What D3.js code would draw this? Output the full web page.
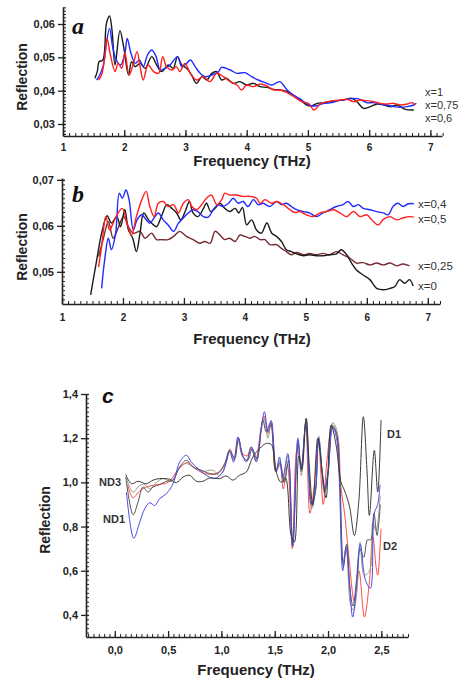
<!DOCTYPE html>
<html><head><meta charset="utf-8">
<script src="https://cdn.jsdelivr.net/npm/d3@7"></script>
<style>body{margin:0;background:#fff}svg{display:block}</style>
</head><body>
<svg id="chart" width="467" height="681"></svg>
<script>
// ---------- Panel a data: [frequency THz, reflection] ----------
const aBlack = [[1.52,0.0437],[1.56,0.0457],[1.59,0.0487],[1.65,0.0492],[1.71,0.0602],[1.76,0.0624],[1.80,0.0582],[1.85,0.0477],[1.93,0.0580],[1.99,0.0532],[2.07,0.0447],[2.12,0.0487],[2.18,0.0472],[2.26,0.0482],[2.34,0.0467],[2.45,0.0502],[2.53,0.0477],[2.61,0.0457],[2.72,0.0477],[2.80,0.0467],[2.87,0.0502],[2.94,0.0477],[3.02,0.0467],[3.10,0.0447],[3.18,0.0422],[3.27,0.0442],[3.35,0.0432],[3.43,0.0452],[3.51,0.0457],[3.59,0.0432],[3.67,0.0437],[3.78,0.0422],[3.89,0.0427],[4.00,0.0417],[4.11,0.0422],[4.22,0.0412],[4.33,0.0410],[4.44,0.0404],[4.55,0.0402],[4.66,0.0397],[4.76,0.0387],[4.87,0.0372],[4.98,0.0357],[5.06,0.0354],[5.15,0.0362],[5.26,0.0364],[5.36,0.0367],[5.47,0.0370],[5.58,0.0372],[5.72,0.0377],[5.80,0.0367],[5.91,0.0347],[6.02,0.0352],[6.13,0.0360],[6.24,0.0357],[6.35,0.0352],[6.45,0.0357],[6.59,0.0344],[6.73,0.0342]];
const aRed = [[1.58,0.0432],[1.63,0.0447],[1.69,0.0512],[1.72,0.0557],[1.78,0.0502],[1.85,0.0457],[1.90,0.0482],[1.96,0.0467],[2.01,0.0515],[2.08,0.0447],[2.15,0.0482],[2.21,0.0517],[2.26,0.0472],[2.31,0.0432],[2.39,0.0477],[2.48,0.0457],[2.56,0.0452],[2.63,0.0502],[2.69,0.0472],[2.78,0.0462],[2.85,0.0472],[2.91,0.0457],[2.99,0.0482],[3.08,0.0452],[3.18,0.0432],[3.29,0.0442],[3.40,0.0427],[3.51,0.0452],[3.62,0.0442],[3.73,0.0427],[3.84,0.0417],[3.92,0.0402],[4.00,0.0417],[4.11,0.0412],[4.22,0.0420],[4.33,0.0414],[4.44,0.0402],[4.55,0.0402],[4.66,0.0394],[4.79,0.0380],[4.90,0.0367],[5.01,0.0362],[5.10,0.0342],[5.20,0.0360],[5.31,0.0367],[5.42,0.0370],[5.53,0.0372],[5.64,0.0374],[5.75,0.0367],[5.85,0.0372],[5.96,0.0370],[6.07,0.0367],[6.18,0.0362],[6.29,0.0360],[6.40,0.0362],[6.51,0.0357],[6.62,0.0360],[6.70,0.0364],[6.75,0.0357]];
const aBlue = [[1.55,0.0432],[1.60,0.0447],[1.66,0.0477],[1.70,0.0532],[1.76,0.0587],[1.81,0.0532],[1.87,0.0492],[1.94,0.0477],[2.01,0.0512],[2.05,0.0557],[2.11,0.0512],[2.18,0.0482],[2.25,0.0492],[2.31,0.0472],[2.38,0.0507],[2.45,0.0522],[2.52,0.0502],[2.59,0.0462],[2.67,0.0467],[2.75,0.0477],[2.87,0.0502],[2.94,0.0472],[3.02,0.0482],[3.08,0.0492],[3.16,0.0472],[3.24,0.0452],[3.32,0.0442],[3.43,0.0447],[3.54,0.0457],[3.59,0.0470],[3.73,0.0462],[3.84,0.0452],[3.97,0.0454],[4.08,0.0442],[4.19,0.0432],[4.30,0.0424],[4.41,0.0417],[4.54,0.0427],[4.66,0.0402],[4.76,0.0387],[4.90,0.0372],[5.01,0.0357],[5.12,0.0354],[5.26,0.0362],[5.39,0.0364],[5.50,0.0370],[5.64,0.0374],[5.75,0.0377],[5.85,0.0374],[5.96,0.0364],[6.07,0.0364],[6.18,0.0360],[6.29,0.0357],[6.40,0.0352],[6.51,0.0350],[6.62,0.0352],[6.73,0.0357],[6.77,0.0362]];
const aLabels = ["x=1","x=0,75","x=0,6"];
const aXTicks = [1,2,3,4,5,6,7];
const aYTicks = [0.03,0.04,0.05,0.06];

// ---------- Panel b data ----------
const bBlack = [[1.47,0.0450],[1.57,0.0526],[1.65,0.0584],[1.74,0.0622],[1.81,0.0606],[1.90,0.0620],[1.96,0.0598],[2.03,0.0635],[2.09,0.0591],[2.16,0.0573],[2.22,0.0544],[2.28,0.0584],[2.34,0.0628],[2.42,0.0613],[2.50,0.0602],[2.55,0.0598],[2.63,0.0620],[2.72,0.0646],[2.80,0.0638],[2.88,0.0628],[2.95,0.0613],[3.02,0.0631],[3.09,0.0653],[3.15,0.0628],[3.23,0.0620],[3.31,0.0635],[3.37,0.0649],[3.44,0.0631],[3.51,0.0638],[3.59,0.0649],[3.67,0.0638],[3.75,0.0631],[3.84,0.0638],[3.90,0.0628],[3.96,0.0640],[4.03,0.0602],[4.11,0.0613],[4.19,0.0591],[4.27,0.0584],[4.36,0.0606],[4.44,0.0584],[4.52,0.0577],[4.60,0.0566],[4.68,0.0548],[4.76,0.0544],[4.85,0.0539],[4.96,0.0535],[5.06,0.0537],[5.17,0.0535],[5.28,0.0535],[5.39,0.0537],[5.50,0.0539],[5.58,0.0548],[5.67,0.0537],[5.75,0.0519],[5.83,0.0504],[5.94,0.0493],[6.05,0.0483],[6.16,0.0464],[6.27,0.0461],[6.38,0.0464],[6.46,0.0468],[6.54,0.0483],[6.62,0.0475],[6.70,0.0483],[6.76,0.0469]];
const bMaroon = [[1.60,0.0533],[1.68,0.0573],[1.76,0.0609],[1.84,0.0573],[1.92,0.0595],[2.01,0.0620],[2.09,0.0598],[2.17,0.0584],[2.28,0.0588],[2.36,0.0573],[2.47,0.0584],[2.55,0.0570],[2.63,0.0570],[2.74,0.0570],[2.83,0.0577],[2.93,0.0588],[3.04,0.0577],[3.15,0.0570],[3.26,0.0562],[3.34,0.0566],[3.43,0.0562],[3.51,0.0588],[3.59,0.0580],[3.67,0.0570],[3.75,0.0573],[3.84,0.0566],[3.92,0.0580],[4.00,0.0577],[4.08,0.0573],[4.16,0.0577],[4.25,0.0570],[4.33,0.0570],[4.41,0.0559],[4.52,0.0559],[4.60,0.0551],[4.68,0.0544],[4.76,0.0537],[4.85,0.0542],[4.96,0.0537],[5.06,0.0540],[5.17,0.0537],[5.28,0.0540],[5.39,0.0537],[5.50,0.0544],[5.61,0.0537],[5.72,0.0530],[5.83,0.0519],[5.94,0.0520],[6.05,0.0515],[6.16,0.0519],[6.27,0.0515],[6.38,0.0519],[6.49,0.0513],[6.59,0.0517],[6.70,0.0513]];
const bRed = [[1.60,0.0510],[1.65,0.0555],[1.72,0.0620],[1.78,0.0591],[1.84,0.0606],[1.92,0.0628],[1.99,0.0638],[2.06,0.0609],[2.14,0.0580],[2.22,0.0620],[2.31,0.0657],[2.38,0.0675],[2.44,0.0642],[2.51,0.0620],[2.58,0.0649],[2.66,0.0653],[2.74,0.0642],[2.83,0.0646],[2.91,0.0628],[2.99,0.0649],[3.07,0.0657],[3.13,0.0642],[3.21,0.0635],[3.29,0.0646],[3.37,0.0660],[3.45,0.0667],[3.54,0.0646],[3.62,0.0657],[3.67,0.0671],[3.75,0.0667],[3.86,0.0667],[3.97,0.0664],[4.08,0.0664],[4.19,0.0660],[4.25,0.0649],[4.33,0.0657],[4.44,0.0649],[4.52,0.0653],[4.63,0.0646],[4.74,0.0635],[4.82,0.0629],[4.90,0.0631],[5.01,0.0624],[5.12,0.0620],[5.23,0.0628],[5.34,0.0631],[5.45,0.0635],[5.56,0.0628],[5.67,0.0620],[5.78,0.0631],[5.89,0.0620],[6.00,0.0624],[6.08,0.0613],[6.19,0.0602],[6.27,0.0614],[6.38,0.0620],[6.49,0.0613],[6.59,0.0617],[6.70,0.0620],[6.77,0.0619]];
const bBlue = [[1.65,0.0464],[1.70,0.0526],[1.76,0.0573],[1.81,0.0548],[1.88,0.0584],[1.94,0.0671],[1.99,0.0660],[2.05,0.0678],[2.10,0.0657],[2.17,0.0591],[2.23,0.0613],[2.31,0.0624],[2.38,0.0613],[2.44,0.0606],[2.51,0.0617],[2.58,0.0628],[2.66,0.0613],[2.74,0.0602],[2.83,0.0588],[2.91,0.0606],[2.99,0.0617],[3.07,0.0628],[3.15,0.0635],[3.23,0.0631],[3.32,0.0620],[3.40,0.0619],[3.48,0.0635],[3.56,0.0646],[3.64,0.0642],[3.73,0.0649],[3.81,0.0660],[3.89,0.0649],[3.97,0.0653],[4.05,0.0642],[4.14,0.0657],[4.22,0.0646],[4.30,0.0649],[4.41,0.0642],[4.52,0.0653],[4.60,0.0646],[4.68,0.0649],[4.76,0.0642],[4.85,0.0635],[4.96,0.0631],[5.06,0.0628],[5.17,0.0620],[5.28,0.0628],[5.39,0.0635],[5.50,0.0642],[5.61,0.0646],[5.69,0.0653],[5.78,0.0642],[5.86,0.0646],[5.94,0.0638],[6.05,0.0635],[6.16,0.0631],[6.27,0.0628],[6.35,0.0624],[6.43,0.0642],[6.51,0.0649],[6.59,0.0642],[6.68,0.0648],[6.77,0.0648]];
const bLabels = ["x=0,4","x=0,5","x=0,25","x=0"];
const bXTicks = [1,2,3,4,5,6,7];
const bYTicks = [0.05,0.06,0.07];

// ---------- Panel c data ----------
const cRed = [[0.12,0.99],[0.17,0.93],[0.23,0.96],[0.30,0.98],[0.40,0.99],[0.50,1.00],[0.60,1.06],[0.68,1.09],[0.76,1.06],[0.85,1.04],[0.95,1.04],[1.03,1.08],[1.08,1.15],[1.12,1.10],[1.16,1.20],[1.20,1.13],[1.24,1.12],[1.28,1.16],[1.32,1.10],[1.37,1.24],[1.40,1.30],[1.44,1.22],[1.47,1.27],[1.51,1.05],[1.55,1.08],[1.58,0.97],[1.62,1.08],[1.665,0.70],[1.71,1.15],[1.75,1.08],[1.79,1.27],[1.83,0.86],[1.87,0.98],[1.91,1.18],[1.955,0.90],[1.99,1.10],[2.04,1.25],[2.085,1.22],[2.12,0.98],[2.155,0.86],[2.20,0.64],[2.247,0.46],[2.29,0.60],[2.341,0.39],[2.388,0.55],[2.419,0.76],[2.45,0.62],[2.466,0.58],[2.497,0.79]];
const cGrey = [[0.109,1.017],[0.172,0.956],[0.234,0.986],[0.28,0.99],[0.328,0.971],[0.39,0.999],[0.453,1.017],[0.53,1.005],[0.609,1.07],[0.671,1.085],[0.749,1.065],[0.827,1.05],[0.92,1.055],[0.983,1.032],[1.045,1.092],[1.077,1.14],[1.114,1.10],[1.155,1.19],[1.195,1.12],[1.24,1.10],[1.28,1.15],[1.33,1.10],[1.373,1.23],[1.40,1.29],[1.436,1.20],[1.467,1.27],[1.514,1.06],[1.545,1.10],[1.58,1.00],[1.623,1.12],[1.67,0.72],[1.717,1.19],[1.75,1.03],[1.795,1.29],[1.845,0.88],[1.88,0.95],[1.913,1.21],[1.966,0.95],[2.00,1.03],[2.044,1.27],[2.08,1.24],[2.107,1.02],[2.14,0.64],[2.17,0.70],[2.21,0.45],[2.24,0.42],[2.27,0.50],[2.30,0.73],[2.34,0.58],[2.39,0.60],[2.42,0.82],[2.45,0.78],[2.49,0.94]];
const cND2 = [[0.103,1.024],[0.172,0.853],[0.218,0.911],[0.265,0.979],[0.312,0.956],[0.359,0.979],[0.421,0.99],[0.484,1.005],[0.546,1.01],[0.609,1.07],[0.671,1.10],[0.733,1.07],[0.811,1.055],[0.89,1.04],[0.967,1.04],[1.03,1.085],[1.077,1.146],[1.124,1.108],[1.161,1.199],[1.202,1.115],[1.248,1.10],[1.289,1.153],[1.333,1.108],[1.389,1.282],[1.42,1.229],[1.46,1.27],[1.51,1.05],[1.55,1.09],[1.59,1.00],[1.63,1.10],[1.665,0.72],[1.72,1.18],[1.75,1.05],[1.79,1.26],[1.85,0.90],[1.885,0.97],[1.91,1.19],[1.97,0.96],[2.00,1.04],[2.04,1.26],[2.08,1.22],[2.11,1.03],[2.145,0.62],[2.175,0.72],[2.21,0.50],[2.235,0.44],[2.265,0.55],[2.30,0.70],[2.335,0.66],[2.37,0.74],[2.40,0.74],[2.43,0.86],[2.46,0.76],[2.49,0.90]];
const cBlue = [[0.109,0.956],[0.178,0.747],[0.234,0.82],[0.28,0.88],[0.328,0.908],[0.374,0.895],[0.421,0.926],[0.484,0.949],[0.546,0.994],[0.609,1.092],[0.671,1.123],[0.718,1.092],[0.78,1.062],[0.858,1.032],[0.936,1.017],[1.014,1.047],[1.077,1.138],[1.114,1.092],[1.155,1.206],[1.195,1.13],[1.233,1.092],[1.28,1.161],[1.327,1.092],[1.373,1.244],[1.404,1.32],[1.436,1.229],[1.467,1.28],[1.514,1.047],[1.545,1.115],[1.575,1.02],[1.623,1.13],[1.67,0.71],[1.717,1.20],[1.748,1.06],[1.795,1.28],[1.841,0.90],[1.88,0.96],[1.913,1.20],[1.966,0.97],[2.00,1.05],[2.044,1.25],[2.08,1.20],[2.107,1.00],[2.138,0.60],[2.169,0.71],[2.20,0.55],[2.231,0.39],[2.27,0.55],[2.303,0.72],[2.35,0.56],[2.397,0.52],[2.434,0.86],[2.466,0.90],[2.488,0.99]];
const cD1 = [[0.103,1.035],[0.156,0.994],[0.218,1.005],[0.296,0.994],[0.359,1.01],[0.421,1.017],[0.515,1.014],[0.577,0.999],[0.64,1.024],[0.702,1.032],[0.765,1.005],[0.827,1.005],[0.89,1.02],[0.983,1.017],[1.045,1.029],[1.108,1.01],[1.17,1.032],[1.233,1.047],[1.295,1.115],[1.358,1.153],[1.42,1.176],[1.47,1.17],[1.514,1.047],[1.56,1.00],[1.60,1.02],[1.654,0.76],[1.685,0.73],[1.726,1.12],[1.755,1.06],[1.795,1.29],[1.825,1.07],[1.857,0.895],[1.904,1.20],[1.95,1.03],[1.982,0.93],[2.029,1.26],[2.075,1.17],[2.122,1.00],[2.153,0.965],[2.20,0.895],[2.247,0.759],[2.288,0.91],[2.331,1.297],[2.366,1.047],[2.388,0.85],[2.434,1.145],[2.466,0.956],[2.497,1.282]];
const cXTicks = [0,0.5,1.0,1.5,2.0,2.5];
const cYTicks = [0.4,0.6,0.8,1.0,1.2,1.4];

// ---------- drawing ----------
const svg = d3.select("#chart");
const FONT = "'Liberation Sans', Arial, sans-serif";
const comma = f => (v => d3.format(f)(v).replace(".", ","));

function panel(o) {
  const g = svg.append("g");
  const x = d3.scaleLinear().domain(o.xd).range(o.xr);
  const y = d3.scaleLinear().domain(o.yd).range(o.yr);
  const y0 = o.yr[0], x0 = o.xr[0];

  // minor ticks
  g.append("g").attr("transform", `translate(0,${y0})`)
    .call(d3.axisBottom(x).tickValues(o.xMinor).tickSize(-3).tickSizeOuter(0).tickFormat(""))
    .call(s => { s.select(".domain").remove(); s.selectAll("line").attr("stroke", "#222").attr("stroke-width", 1); });
  g.append("g").attr("transform", `translate(${x0},0)`)
    .call(d3.axisLeft(y).tickValues(o.yMinor).tickSize(-3).tickSizeOuter(0).tickFormat(""))
    .call(s => { s.select(".domain").remove(); s.selectAll("line").attr("stroke", "#222").attr("stroke-width", 1); });

  // major x axis
  g.append("g").attr("transform", `translate(0,${y0})`)
    .call(d3.axisBottom(x).tickValues(o.xTicks).tickSize(-6).tickSizeOuter(0).tickFormat(o.xFmt))
    .call(s => {
      s.select(".domain").attr("stroke", "#222").attr("stroke-width", 1.6);
      s.selectAll("line").attr("stroke", "#222").attr("stroke-width", 1.3);
      s.selectAll("text").attr("y", o.xLabDy).attr("dy", null)
        .attr("font-family", FONT).attr("font-weight", "bold").attr("font-size", o.xLabSize).attr("fill", "#222");
    });
  // major y axis
  g.append("g").attr("transform", `translate(${x0},0)`)
    .call(d3.axisLeft(y).tickValues(o.yTicks).tickSize(5).tickSizeOuter(0).tickFormat(o.yFmt))
    .call(s => {
      s.select(".domain").attr("stroke", "#222").attr("stroke-width", 1.6);
      s.selectAll("line").attr("stroke", "#222").attr("stroke-width", 1.3).attr("x2", -5).attr("x1", 3);
      s.selectAll("text").attr("x", -8)
        .attr("font-family", FONT).attr("font-weight", "bold").attr("font-size", o.yLabSize).attr("fill", "#222");
    });

  // series
  const line = d3.line().x(d => x(d[0])).y(d => y(d[1])).curve(d3.curveCatmullRom.alpha(0.5));
  o.series.forEach(s => {
    g.append("path").datum(s.data).attr("d", line)
      .attr("fill", "none").attr("stroke", s.color).attr("stroke-width", s.w)
      .attr("stroke-linejoin", "round");
  });

  // axis titles
  g.append("text").attr("x", o.xTitle[0]).attr("y", o.xTitle[1]).attr("text-anchor", "middle")
    .attr("font-family", FONT).attr("font-weight", "bold").attr("font-size", 15).attr("fill", "#222")
    .text("Frequency (THz)");
  g.append("text").attr("transform", `translate(${o.yTitle[0]},${o.yTitle[1]}) rotate(-90)`)
    .attr("text-anchor", "middle")
    .attr("font-family", FONT).attr("font-weight", "bold").attr("font-size", 14).attr("fill", "#222")
    .text("Reflection");
  // panel letter
  g.append("text").attr("x", o.letter[0]).attr("y", o.letter[1])
    .attr("font-family", o.letterFont).attr("font-weight", "bold").attr("font-style", "italic")
    .attr("font-size", o.letterSize).attr("fill", "#111").text(o.letter[2]);
  // labels
  o.labels.forEach(l => {
    g.append("text").attr("x", l[0]).attr("y", l[1]).text(l[2])
      .attr("font-family", FONT).attr("font-weight", o.labelWeight).attr("font-size", o.labelSize).attr("fill", "#333");
  });
}

panel({
  xd: [1, 7.19], xr: [63, 442], yd: [0.0264, 0.0651], yr: [136, 7],
  xTicks: aXTicks, yTicks: aYTicks,
  xMinor: d3.range(1, 7.21, 0.1), yMinor: d3.range(0.027, 0.0652, 0.001),
  xFmt: d3.format("d"), yFmt: comma(".2f"), xLabDy: 15, xLabSize: 10, yLabSize: 11,
  series: [
    {data: aBlack, color: "#1a1a1a", w: 1.4},
    {data: aBlue, color: "#1f2bff", w: 1.4},
    {data: aRed, color: "#ff1f1f", w: 1.4}
  ],
  xTitle: [252, 166], yTitle: [27, 77],
  letter: [72, 34, "a"], letterFont: "'Liberation Serif', 'Times New Roman', serif", letterSize: 24,
  labels: [[425, 96, aLabels[0]], [425, 108.5, aLabels[1]], [425, 121.5, aLabels[2]]],
  labelSize: 11, labelWeight: "normal"
});

panel({
  xd: [1, 7.2], xr: [62, 440], yd: [0.043, 0.0704], yr: [304, 178],
  xTicks: bXTicks, yTicks: bYTicks,
  xMinor: d3.range(1, 7.21, 0.1), yMinor: d3.range(0.044, 0.0705, 0.001),
  xFmt: d3.format("d"), yFmt: comma(".2f"), xLabDy: 17, xLabSize: 10, yLabSize: 11,
  series: [
    {data: bMaroon, color: "#7a2a33", w: 1.4},
    {data: bBlack, color: "#1a1a1a", w: 1.4},
    {data: bBlue, color: "#1f2bff", w: 1.4},
    {data: bRed, color: "#ff1f1f", w: 1.4}
  ],
  xTitle: [252, 344], yTitle: [27, 247],
  letter: [72, 202, "b"], letterFont: "'Liberation Serif', 'Times New Roman', serif", letterSize: 24,
  labels: [[418, 208, bLabels[0]], [418, 223, bLabels[1]], [418, 270, bLabels[2]], [418, 290, bLabels[3]]],
  labelSize: 11.5, labelWeight: "normal"
});

panel({
  xd: [-0.27, 2.75], xr: [86, 408], yd: [0.3, 1.4], yr: [637, 394],
  xTicks: cXTicks, yTicks: cYTicks,
  xMinor: d3.range(-0.25, 2.751, 0.05), yMinor: d3.range(0.32, 1.401, 0.02),
  xFmt: comma(".1f"), yFmt: comma(".1f"), xLabDy: 17, xLabSize: 11, yLabSize: 11,
  series: [
    {data: cRed, color: "#ff4a4a", w: 1},
    {data: cGrey, color: "#9a9a8c", w: 1},
    {data: cND2, color: "#555555", w: 1},
    {data: cBlue, color: "#4a4ae6", w: 1},
    {data: cD1, color: "#3a3a3a", w: 1}
  ],
  xTitle: [256, 675], yTitle: [50, 520],
  letter: [102, 403, "c"], letterFont: FONT, letterSize: 21,
  labels: [[99, 486, "ND3"], [103, 523, "ND1"], [387, 438, "D1"], [383, 550, "D2"]],
  labelSize: 11, labelWeight: "bold"
});
</script>
</body></html>
